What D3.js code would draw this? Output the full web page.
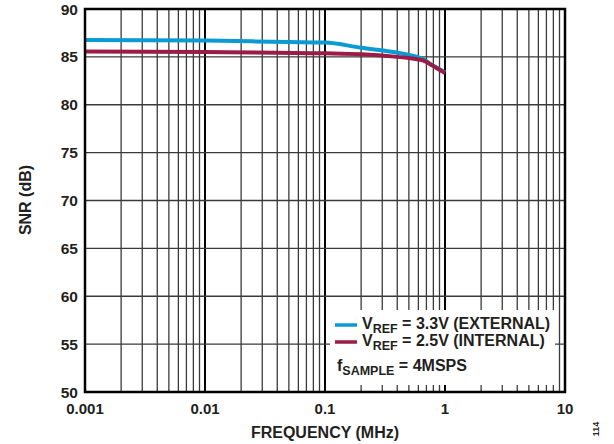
<!DOCTYPE html>
<html>
<head>
<meta charset="utf-8">
<script src="https://cdn.jsdelivr.net/npm/d3@7"></script>
<style>
  body{margin:0;background:#fff;}
  text{font-family:Arial,"Liberation Sans",sans-serif;font-weight:bold;fill:#231f20;}
</style>
</head>
<body>
<svg id="chart" width="614" height="444"></svg>
<script>
// data (frequency in MHz, SNR in dB)
const freqExt = [0.001, 0.01, 0.05, 0.1, 0.2, 0.4, 0.5, 0.66, 0.78, 1.0];
const snrExt  = [86.75, 86.7, 86.55, 86.5, 85.95, 85.45, 85.2, 84.75, 84.15, 83.4];
const freqInt = [0.001, 0.01, 0.1, 0.2, 0.4, 0.5, 0.66, 0.78, 1.0];
const snrInt  = [85.55, 85.5, 85.37, 85.27, 85.0, 84.88, 84.62, 84.12, 83.3];
const xTicks = [0.001, 0.01, 0.1, 1, 10];
const xTickLabels = ["0.001", "0.01", "0.1", "1", "10"];
const yTicks = [50, 55, 60, 65, 70, 75, 80, 85, 90];

const svg = d3.select("#chart");
const pLeft = 85, pRight = 565, pTop = 9, pBottom = 392;

const x = d3.scaleLog().domain([0.001, 10]).range([pLeft, pRight]);
const y = d3.scaleLinear().domain([50, 90]).range([pBottom, pTop]);

// minor frequency lines
let minors = [];
xTicks.slice(0, -1).forEach(d => {
  for(let m = 2; m <= 9; m++) minors.push(d * m);
});

const grid = svg.append("g");
grid.selectAll(".minor")
  .data(minors)
  .enter()
  .append("line")
  .attr("x1", d => x(d)).attr("x2", d => x(d))
  .attr("y1", pTop).attr("y2", pBottom)
  .attr("stroke", "#3a3a3a")
  .attr("stroke-width", 1.3);

grid.selectAll(".major")
  .data(xTicks)
  .enter()
  .append("line")
  .attr("x1", d => x(d)).attr("x2", d => x(d))
  .attr("y1", pTop).attr("y2", pBottom)
  .attr("stroke", "#000")
  .attr("stroke-width", 2);

grid.selectAll(".hgrid")
  .data(yTicks)
  .enter()
  .append("line")
  .attr("x1", pLeft).attr("x2", pRight)
  .attr("y1", d => y(d)).attr("y2", d => y(d))
  .attr("stroke", "#3a3a3a")
  .attr("stroke-width", 1.3);

// legend background hides the grid
svg.append("rect")
  .attr("x", 330).attr("y", 310)
  .attr("width", 225).attr("height", 75)
  .attr("fill", "#fff");

// curves
const line = d3.line()
  .x(d => x(d[0]))
  .y(d => y(d[1]))
  .curve(d3.curveMonotoneX);

svg.append("path")
  .datum(d3.zip(freqExt, snrExt))
  .attr("d", line)
  .attr("fill", "none")
  .attr("stroke", "#0a9bd5")
  .attr("stroke-width", 4);

svg.append("path")
  .datum(d3.zip(freqInt, snrInt))
  .attr("d", line)
  .attr("fill", "none")
  .attr("stroke", "#9c1c48")
  .attr("stroke-width", 4);

// frame
svg.append("rect")
  .attr("x", pLeft).attr("y", pTop)
  .attr("width", pRight - pLeft).attr("height", pBottom - pTop)
  .attr("fill", "none")
  .attr("stroke", "#000")
  .attr("stroke-width", 2.5);

// tick labels
svg.selectAll(".xlab")
  .data(xTicks)
  .enter()
  .append("text")
  .attr("x", d => x(d))
  .attr("y", 414)
  .attr("text-anchor", "middle")
  .attr("font-size", "15px")
  .text((d, i) => xTickLabels[i]);

svg.selectAll(".ylab")
  .data(yTicks)
  .enter()
  .append("text")
  .attr("x", 78)
  .attr("y", d => y(d) + 5.5)
  .attr("text-anchor", "end")
  .attr("font-size", "15.5px")
  .text(d => d);

// axis titles
svg.append("text")
  .attr("x", 325).attr("y", 438)
  .attr("text-anchor", "middle")
  .attr("font-size", "16px")
  .text("FREQUENCY (MHz)");

svg.append("text")
  .attr("transform", "translate(31,200) rotate(-90)")
  .attr("text-anchor", "middle")
  .attr("font-size", "16px")
  .text("SNR (dB)");

svg.append("text")
  .attr("transform", "translate(599,429) rotate(-90)")
  .attr("text-anchor", "middle")
  .attr("font-size", "9px")
  .attr("font-weight", "normal")
  .text("114");

// legend
const legend = [
  {color: "#0a9bd5", main: "V", sub: "REF", rest: " = 3.3V (EXTERNAL)", y: 325},
  {color: "#9c1c48", main: "V", sub: "REF", rest: " = 2.5V (INTERNAL)", y: 342}
];
legend.forEach(l => {
  svg.append("line")
    .attr("x1", 335).attr("x2", 357)
    .attr("y1", l.y).attr("y2", l.y)
    .attr("stroke", l.color)
    .attr("stroke-width", 3.5);
  const t = svg.append("text")
    .attr("x", 362).attr("y", l.y + 4)
    .attr("font-size", "16px");
  t.append("tspan").text(l.main);
  t.append("tspan").attr("font-size", "12.5px").attr("dy", 4).text(l.sub);
  t.append("tspan").attr("dy", -4).text(l.rest);
});

const fs = svg.append("text")
  .attr("x", 337).attr("y", 371)
  .attr("font-size", "16px");
fs.append("tspan").text("f");
fs.append("tspan").attr("font-size", "12.5px").attr("dy", 4).text("SAMPLE");
fs.append("tspan").attr("dy", -4).text(" = 4MSPS");
</script>
</body>
</html>
